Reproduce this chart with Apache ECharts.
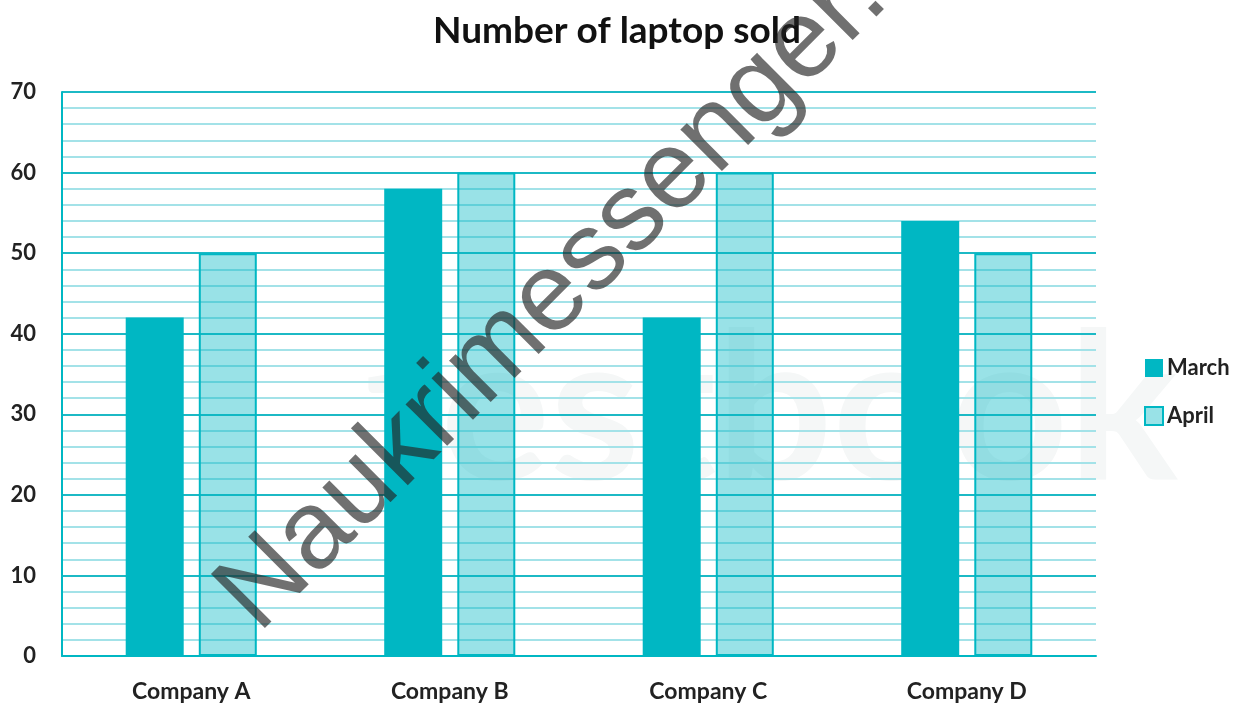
<!DOCTYPE html>
<html lang="en">
<head>
    <meta charset="UTF-8">
    <title>Number of laptop sold</title>
    <script src="https://cdn.jsdelivr.net/npm/echarts@6/dist/echarts.min.js"></script>
    <style>
        html, body { margin: 0; padding: 0; background: #fff; }
        #main { width: 1234px; height: 703px; }
    </style>
</head>
<body>
<div id="main"></div>
<script type="text/javascript">
    var companies = ['Company A', 'Company B', 'Company C', 'Company D'];
    var march = [42, 58, 42, 54];
    var april = [50, 60, 60, 50];
    var seriesNames = ['March', 'April'];

    var teal = '#00b7c3';
    var font = 'Lato';

    var myChart = echarts.init(document.getElementById('main'));
    var option = {
        backgroundColor: '#fff',
        animation: false,
        title: {
            text: 'Number of laptop sold',
            left: 'center',
            top: 8,
            textStyle: { fontFamily: font, fontSize: 37, fontWeight: 'bold', color: '#111' }
        },
        legend: {
            orient: 'vertical',
            left: 1139,
            top: 352,
            itemWidth: 18,
            itemHeight: 18,
            itemGap: 26,
            icon: 'rect',
            textStyle: { fontFamily: font, fontSize: 22, fontWeight: 'bold', color: '#222', padding: [0, 0, 0, -1] },
            data: seriesNames
        },
        grid: { left: 62, right: 138, top: 92, bottom: 47 },
        xAxis: {
            type: 'category',
            data: companies,
            axisLine: { lineStyle: { color: teal, width: 2 } },
            axisTick: { show: false },
            axisLabel: { fontFamily: font, fontSize: 23, fontWeight: 'bold', color: '#222', margin: 24 }
        },
        yAxis: {
            type: 'value',
            min: 0,
            max: 70,
            interval: 10,
            axisLine: { show: true, lineStyle: { color: teal, width: 2 } },
            axisTick: { show: false },
            axisLabel: { fontFamily: font, fontSize: 22, fontWeight: 'bold', color: '#222', margin: 26 },
            splitLine: { lineStyle: { color: '#1cb9c5', width: 2 } },
            minorTick: { show: false, splitNumber: 5 },
            minorSplitLine: { show: true, lineStyle: { color: '#a3e2e8', width: 2 } }
        },
        graphic: [
            {
                type: 'text',
                left: 365,
                top: 310,
                z: -10,
                silent: true,
                style: { text: 'testbook', fontFamily: font, fontSize: 205, fontWeight: 'bold', fill: '#f5f7f7' }
            },
            {
                type: 'text',
                x: 276,
                y: 652,
                rotation: Math.PI / 4,
                z: 100,
                silent: true,
                style: {
                    text: 'Naukrimessenger.com',
                    fontFamily: 'Liberation Sans',
                    fontSize: 111,
                    fill: 'rgba(35,35,35,0.65)',
                    textAlign: 'left',
                    textVerticalAlign: 'bottom'
                }
            }
        ],
        series: [
            {
                name: 'March',
                type: 'bar',
                data: march,
                barWidth: 58,
                barGap: '26%',
                itemStyle: { color: teal },
                z: 1
            },
            {
                name: 'April',
                type: 'bar',
                data: april,
                barWidth: 58,
                itemStyle: { color: 'rgba(0,183,195,0.4)', borderColor: teal, borderWidth: 2 },
                z: 1
            }
        ]
    };
    myChart.setOption(option);
</script>
</body>
</html>
